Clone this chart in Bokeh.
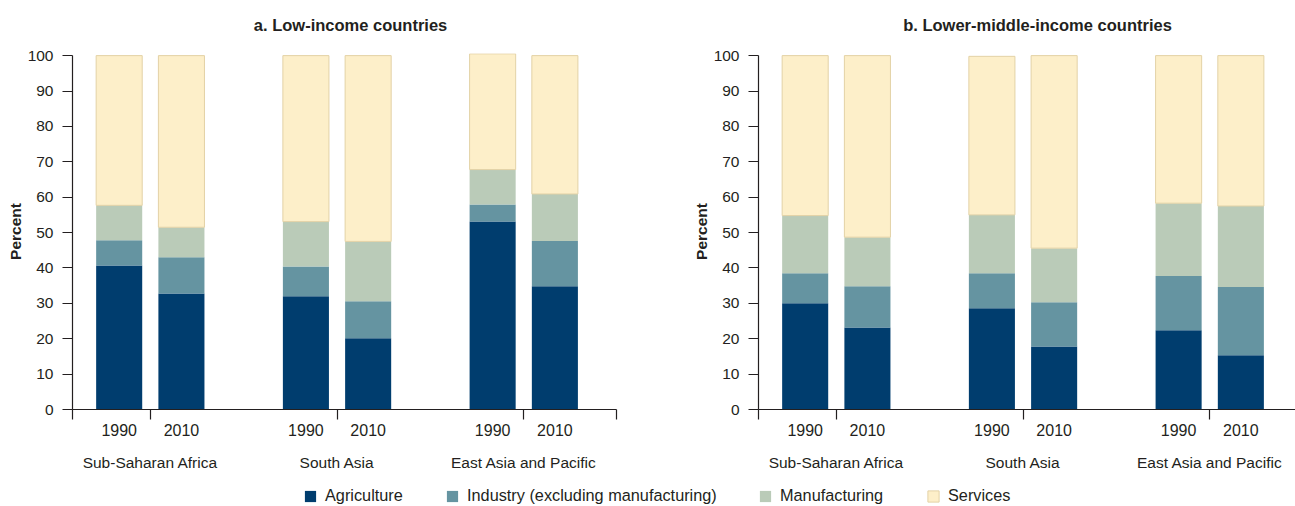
from bokeh.plotting import figure
from bokeh.models import (ColumnDataSource, Range1d, FixedTicker, LinearAxis,
                          Legend, LegendItem)
from bokeh.layouts import column, row
from bokeh.embed import file_html
from bokeh.resources import INLINE

# ---------------- data ----------------
regions = ["Sub-Saharan Africa", "South Asia", "East Asia and Pacific"]
years = ["1990", "2010"]
sectors = ["Agriculture", "Industry (excluding manufacturing)",
           "Manufacturing", "Services"]
titles = ["a. Low-income countries", "b. Lower-middle-income countries"]

# order of bars: SSA 1990, SSA 2010, SA 1990, SA 2010, EAP 1990, EAP 2010
# a. Low-income countries (percent)
low_agri = [40.7, 32.8, 32.0, 20.1, 53.1, 34.8]
low_ind = [7.1, 10.2, 8.4, 10.5, 4.8, 12.8]
low_manu = [9.9, 8.5, 12.7, 16.9, 9.9, 13.3]
low_serv = [42.3, 48.5, 46.9, 52.5, 32.7, 39.1]

# b. Lower-middle-income countries (percent)
lmi_agri = [30.0, 23.2, 28.6, 17.8, 22.4, 15.3]
lmi_ind = [8.5, 11.6, 9.9, 12.5, 15.3, 19.3]
lmi_manu = [16.3, 13.9, 16.5, 15.3, 20.6, 22.9]
lmi_serv = [45.2, 51.3, 44.8, 54.4, 41.7, 42.5]

y_ticks = list(range(0, 101, 10))

# ---------------- style ----------------
FONT = "Liberation Sans"
TXT = "#231f20"
COLORS = ["#003d6e", "#6594a1", "#bacbb8", "#fdefc9"]
LINES = [None, None, None, "#e3d2a6"]
GROUP_STEP = 3
X_START = -0.75
Y_TOP = 100.6


def make_panel(title, agri, ind, manu, serv, width, mb_right, x_end,
               title_shift, end_tick):
    xs = []
    labels = {}
    for g in range(len(regions)):
        for j, yr in enumerate(years):
            x = g * GROUP_STEP + j
            xs.append(x)
            labels[x] = yr
    centers = [g * GROUP_STEP + 0.5 for g in range(len(regions))]

    src = ColumnDataSource(dict(x=xs, agri=agri, ind=ind, manu=manu, serv=serv))

    p = figure(width=width, height=480,
               x_range=Range1d(X_START, x_end), y_range=Range1d(0, Y_TOP),
               output_backend="svg", toolbar_location=None,
               min_border_left=72, min_border_right=mb_right,
               min_border_top=53, min_border_bottom=71)
    p.outline_line_color = None
    p.xgrid.visible = False
    p.ygrid.visible = False
    p.background_fill_color = "white"
    p.border_fill_color = "white"

    p.vbar_stack(["agri", "ind", "manu", "serv"], x="x", width=0.74,
                 fill_color=COLORS, line_color=LINES, line_width=1,
                 source=src)

    # y axis
    ya = p.yaxis[0]
    ya.ticker = FixedTicker(ticks=y_ticks)
    ya.bounds = (0, 100)
    ya.axis_line_color = TXT
    ya.axis_line_width = 1.2
    ya.major_tick_line_color = TXT
    ya.major_tick_line_width = 1.2
    ya.major_tick_out = 10
    ya.major_tick_in = 0
    ya.minor_tick_line_color = None
    ya.major_label_standoff = 9
    ya.major_label_text_font = FONT
    ya.major_label_text_font_size = "15.5px"
    ya.major_label_text_color = TXT
    ya.axis_label = "Percent"
    ya.axis_label_text_font = FONT
    ya.axis_label_text_font_size = "15.5px"
    ya.axis_label_text_font_style = "bold"
    ya.axis_label_text_color = TXT
    ya.axis_label_standoff = 1

    # x axis (years)
    minor = [X_START] + centers + ([x_end] if end_tick else [])
    xa = p.xaxis[0]
    xa.ticker = FixedTicker(ticks=xs, minor_ticks=minor)
    xa.major_label_overrides = labels
    xa.axis_line_color = TXT
    xa.axis_line_width = 1.2
    xa.major_tick_line_color = None
    xa.major_tick_out = 0
    xa.major_tick_in = 0
    xa.minor_tick_line_color = TXT
    xa.minor_tick_line_width = 1.2
    xa.minor_tick_out = 10
    xa.minor_tick_in = 0
    xa.major_label_standoff = 4
    xa.major_label_text_font = FONT
    xa.major_label_text_font_size = "16px"
    xa.major_label_text_color = TXT

    # second axis (regions)
    p.extra_x_ranges = {
        "grp": Range1d((X_START - 0.5) / GROUP_STEP, (x_end - 0.5) / GROUP_STEP),
        "ttl": Range1d(X_START - title_shift, x_end - title_shift),
    }
    ga = LinearAxis(x_range_name="grp",
                    ticker=FixedTicker(ticks=list(range(len(regions)))),
                    major_label_overrides={i: r for i, r in enumerate(regions)})
    ga.axis_line_color = None
    ga.major_tick_line_color = None
    ga.minor_tick_line_color = None
    ga.major_tick_out = 0
    ga.major_tick_in = 0
    ga.major_label_standoff = 15
    ga.major_label_text_font = FONT
    ga.major_label_text_font_size = "15.5px"
    ga.major_label_text_color = TXT
    p.add_layout(ga, "below")

    # panel title (single label on a top axis)
    ta = LinearAxis(x_range_name="ttl", ticker=FixedTicker(ticks=[0]),
                    major_label_overrides={0: title})
    ta.axis_line_color = None
    ta.major_tick_line_color = None
    ta.minor_tick_line_color = None
    ta.major_tick_out = 0
    ta.major_tick_in = 0
    ta.minor_tick_out = 0
    ta.major_label_standoff = 20
    ta.major_label_text_font = FONT
    ta.major_label_text_font_size = "16.5px"
    ta.major_label_text_font_style = "bold"
    ta.major_label_text_color = TXT
    p.add_layout(ta, "above")
    return p


p1 = make_panel(titles[0], low_agri, low_ind, low_manu,
                low_serv, width=686, mb_right=70, x_end=7.99,
                title_shift=3.717, end_tick=True)
p2 = make_panel(titles[1], lmi_agri, lmi_ind,
                lmi_manu, lmi_serv, width=609, mb_right=0, x_end=7.878,
                title_shift=3.733, end_tick=False)

# legend strip
p3 = figure(width=1295, height=26, x_range=Range1d(0, 1), y_range=Range1d(0, 1),
            output_backend="svg", toolbar_location=None,
            x_axis_type=None, y_axis_type=None,
            min_border_left=0, min_border_right=0, min_border_top=0,
            min_border_bottom=0)
p3.outline_line_color = None
p3.xgrid.visible = False
p3.ygrid.visible = False
leg_x = [303, 445, 758, 926]
for name, c, lc, lx in zip(sectors, COLORS, LINES, leg_x):
    # off-screen swatch source (only used for the legend glyph)
    r = p3.vbar(x=[0.5], top=[-5], bottom=[-6], width=0.1,
                fill_color=c, line_color=lc)
    lg = Legend(items=[LegendItem(label=name, renderers=[r])],
                location=(lx, 1), orientation="horizontal",
                glyph_width=14, glyph_height=14, label_height=14,
                label_standoff=8, padding=0, margin=0,
                border_line_color=None, background_fill_alpha=0,
                label_text_font=FONT, label_text_font_size="16.3px",
                label_text_color=TXT)
    p3.add_layout(lg, "center")

layout = column(row(p1, p2), p3)
open("out.html", "w").write(file_html(layout, INLINE))
